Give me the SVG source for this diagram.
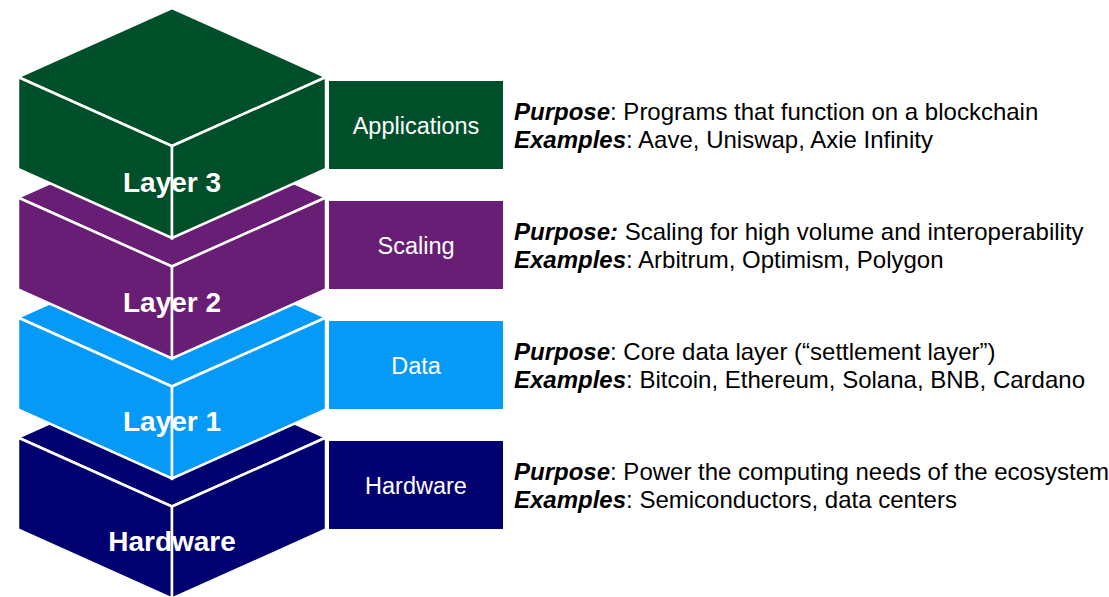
<svg xmlns="http://www.w3.org/2000/svg" xmlns:xlink="http://www.w3.org/1999/xlink" width="1109" height="597" viewBox="0 0 1109 597">
  <style>
    .face { stroke: #FFFFFF; stroke-width: 2.5; stroke-linejoin: miter; }
    .layer-label { font-family: "Liberation Sans", Arial, sans-serif; font-size: 28px; font-weight: bold; fill: #FFFFFF; text-anchor: middle; }
    .box-label { font-family: "Liberation Sans", Arial, sans-serif; font-size: 23.5px; fill: #FFFFFF; text-anchor: middle; }
    .desc { font-family: "Liberation Sans", Arial, sans-serif; font-size: 24px; fill: #000000; }
    .key { font-weight: bold; font-style: italic; }
    .green { fill: #004F2B; }
    .purple { fill: #681E74; }
    .blue { fill: #069AF8; }
    .navy { fill: #000070; }
  </style>
  <defs>
    <g id="cube">
      <polygon class="face" points="172,8 326,77 172,146 18,77"/>
      <polygon class="face" points="18,77 172,146 172,238 18,169"/>
      <polygon class="face" points="172,146 326,77 326,169 172,238"/>
    </g>
  </defs>
  <rect width="1109" height="597" fill="#FFFFFF"/>

  <g id="hardware">
    <use xlink:href="#cube" href="#cube" class="navy" transform="translate(0,360.5)"/>
    <text class="layer-label" x="172" y="551">Hardware</text>
    <rect class="navy" x="329" y="441" width="174" height="88"/>
    <text class="box-label" x="416" y="494">Hardware</text>
    <text class="desc" x="514" y="480"><tspan class="key">Purpose</tspan>: Power the computing needs of the ecosystem</text>
    <text class="desc" x="514" y="508"><tspan class="key">Examples</tspan>: Semiconductors, data centers</text>
  </g>

  <g id="layer1">
    <use xlink:href="#cube" href="#cube" class="blue" transform="translate(0,240.5)"/>
    <text class="layer-label" x="172" y="431">Layer 1</text>
    <rect class="blue" x="329" y="321" width="174" height="88"/>
    <text class="box-label" x="416" y="374">Data</text>
    <text class="desc" x="514" y="360"><tspan class="key">Purpose</tspan>: Core data layer (“settlement layer”)</text>
    <text class="desc" x="514" y="388"><tspan class="key">Examples</tspan>: Bitcoin, Ethereum, Solana, BNB, Cardano</text>
  </g>

  <g id="layer2">
    <use xlink:href="#cube" href="#cube" class="purple" transform="translate(0,120.5)"/>
    <text class="layer-label" x="172" y="312">Layer 2</text>
    <rect class="purple" x="329" y="201" width="174" height="88"/>
    <text class="box-label" x="416" y="254">Scaling</text>
    <text class="desc" x="514" y="240"><tspan class="key">Purpose:</tspan> Scaling for high volume and interoperability</text>
    <text class="desc" x="514" y="268"><tspan class="key">Examples</tspan>: Arbitrum, Optimism, Polygon</text>
  </g>

  <g id="layer3">
    <use xlink:href="#cube" href="#cube" class="green"/>
    <text class="layer-label" x="172" y="192">Layer 3</text>
    <rect class="green" x="329" y="81" width="174" height="88"/>
    <text class="box-label" x="416" y="134">Applications</text>
    <text class="desc" x="514" y="120"><tspan class="key">Purpose</tspan>: Programs that function on a blockchain</text>
    <text class="desc" x="514" y="148"><tspan class="key">Examples</tspan>: Aave, Uniswap, Axie Infinity</text>
  </g>
</svg>
